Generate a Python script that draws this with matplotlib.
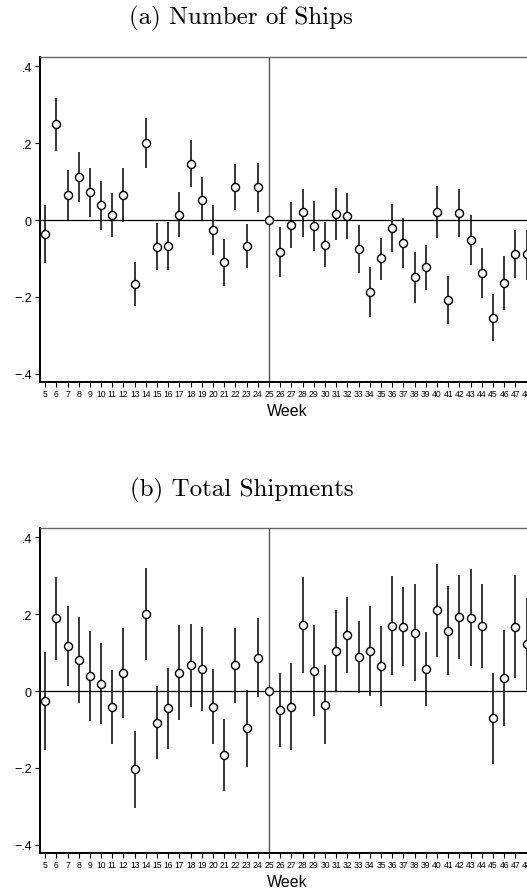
import numpy as np
import matplotlib.pyplot as plt

weeks = list(range(5, 49))

# (a) Number of Ships: point estimate, upper and lower CI
ships = [-0.036, 0.250, 0.064, 0.113, 0.072, 0.038, 0.014, 0.066, -0.167, 0.200,
         -0.069, -0.068, 0.013, 0.145, 0.053, -0.026, -0.110, 0.087, -0.068, 0.087,
         0.000, -0.083, -0.013, 0.020, -0.015, -0.064, 0.016, 0.011, -0.075, -0.187,
         -0.100, -0.020, -0.060, -0.149, -0.123, 0.022, -0.207, 0.018, -0.052, -0.137,
         -0.254, -0.164, -0.088, -0.089]
ships_hi = [0.038, 0.318, 0.131, 0.178, 0.136, 0.101, 0.071, 0.136, -0.109, 0.265,
            -0.008, -0.005, 0.072, 0.209, 0.111, 0.040, -0.049, 0.146, -0.010, 0.149,
            0.000, -0.018, 0.046, 0.082, 0.050, -0.006, 0.083, 0.071, -0.012, -0.122,
            -0.048, 0.042, 0.004, -0.082, -0.065, 0.089, -0.145, 0.081, 0.014, -0.072,
            -0.192, -0.094, -0.025, -0.025]
ships_lo = [-0.112, 0.181, 0.000, 0.048, 0.008, -0.025, -0.045, -0.004, -0.224, 0.136,
            -0.130, -0.129, -0.045, 0.085, -0.003, -0.090, -0.172, 0.027, -0.126, 0.022,
            0.000, -0.148, -0.073, -0.043, -0.081, -0.123, -0.052, -0.049, -0.139, -0.253,
            -0.155, -0.082, -0.124, -0.217, -0.183, -0.046, -0.272, -0.044, -0.117, -0.204,
            -0.315, -0.235, -0.152, -0.157]

# (b) Total Shipments
shipm = [-0.027, 0.189, 0.117, 0.081, 0.040, 0.019, -0.041, 0.048, -0.204, 0.200,
         -0.083, -0.045, 0.048, 0.067, 0.058, -0.041, -0.166, 0.067, -0.097, 0.087,
         0.000, -0.049, -0.042, 0.171, 0.053, -0.035, 0.105, 0.146, 0.090, 0.105,
         0.065, 0.170, 0.168, 0.151, 0.058, 0.210, 0.157, 0.193, 0.191, 0.170,
         -0.071, 0.034, 0.168, 0.123]
shipm_hi = [0.101, 0.296, 0.221, 0.194, 0.156, 0.125, 0.056, 0.165, -0.105, 0.321,
            0.012, 0.060, 0.171, 0.174, 0.167, 0.058, -0.073, 0.165, 0.003, 0.191,
            0.000, 0.048, 0.072, 0.296, 0.171, 0.068, 0.211, 0.246, 0.183, 0.222,
            0.170, 0.299, 0.271, 0.278, 0.155, 0.331, 0.274, 0.302, 0.319, 0.279,
            0.048, 0.159, 0.302, 0.242]
shipm_lo = [-0.154, 0.082, 0.014, -0.031, -0.078, -0.087, -0.137, -0.070, -0.304, 0.081,
            -0.177, -0.150, -0.076, -0.042, -0.051, -0.139, -0.259, -0.031, -0.197, -0.016,
            0.000, -0.146, -0.154, 0.047, -0.066, -0.138, 0.000, 0.046, -0.004, -0.012,
            -0.040, 0.042, 0.064, 0.025, -0.038, 0.090, 0.041, 0.084, 0.064, 0.060,
            -0.190, -0.092, 0.034, 0.003]

titles = ["(a) Number of Ships", "(b) Total Shipments"]
yticks = [-0.4, -0.2, 0, 0.2, 0.4]
ylabels = ["\u2212.4", "\u2212.2", "0", ".2", ".4"]

plt.rcParams['font.family'] = ['Liberation Sans', 'DejaVu Sans']

fig = plt.figure(figsize=(5.27, 8.95), dpi=100)

panels = [(ships, ships_lo, ships_hi), (shipm, shipm_lo, shipm_hi)]
bottoms = [0.5724, 0.0461]
title_y = [0.979, 0.452]

for i, (est, lo, hi) in enumerate(panels):
    ax = fig.add_axes([0.075, bottoms[i], 0.939, 0.3630])
    ax.axhline(0, color='black', lw=0.9, zorder=1)
    ax.axvline(25, color='#555555', lw=1.0, zorder=1)
    ax.vlines(weeks, lo, hi, color='black', lw=1.1, zorder=2)
    ax.plot(weeks, est, 'o', mfc='white', mec='black', ms=5.8, mew=1.0, zorder=3)

    ax.set_xlim(4.5, 48.7)
    ax.set_ylim(-0.421, 0.425)
    ax.set_xticks(weeks)
    ax.set_xticklabels([str(w) for w in weeks], fontsize=6.2)
    ax.set_yticks(yticks)
    ax.set_yticklabels(ylabels, fontsize=9)
    ax.tick_params(axis='x', length=3.5, width=0.8, pad=2, color='black')
    ax.tick_params(axis='y', length=3.5, width=0.8, pad=2, color='black')
    ax.set_xlabel("Week", fontsize=11.5, labelpad=3)

    ax.spines['left'].set_linewidth(1.4)
    ax.spines['bottom'].set_linewidth(1.4)
    ax.spines['top'].set_color('#666666')
    ax.spines['top'].set_linewidth(1.0)
    ax.spines['right'].set_visible(False)
    for sp in ax.spines.values():
        sp.set_clip_on(False)

    fig.text(0.458, title_y[i], titles[i], family='cmr10', fontsize=18,
             ha='center', va='center')

fig.savefig("out.png", dpi=100)
